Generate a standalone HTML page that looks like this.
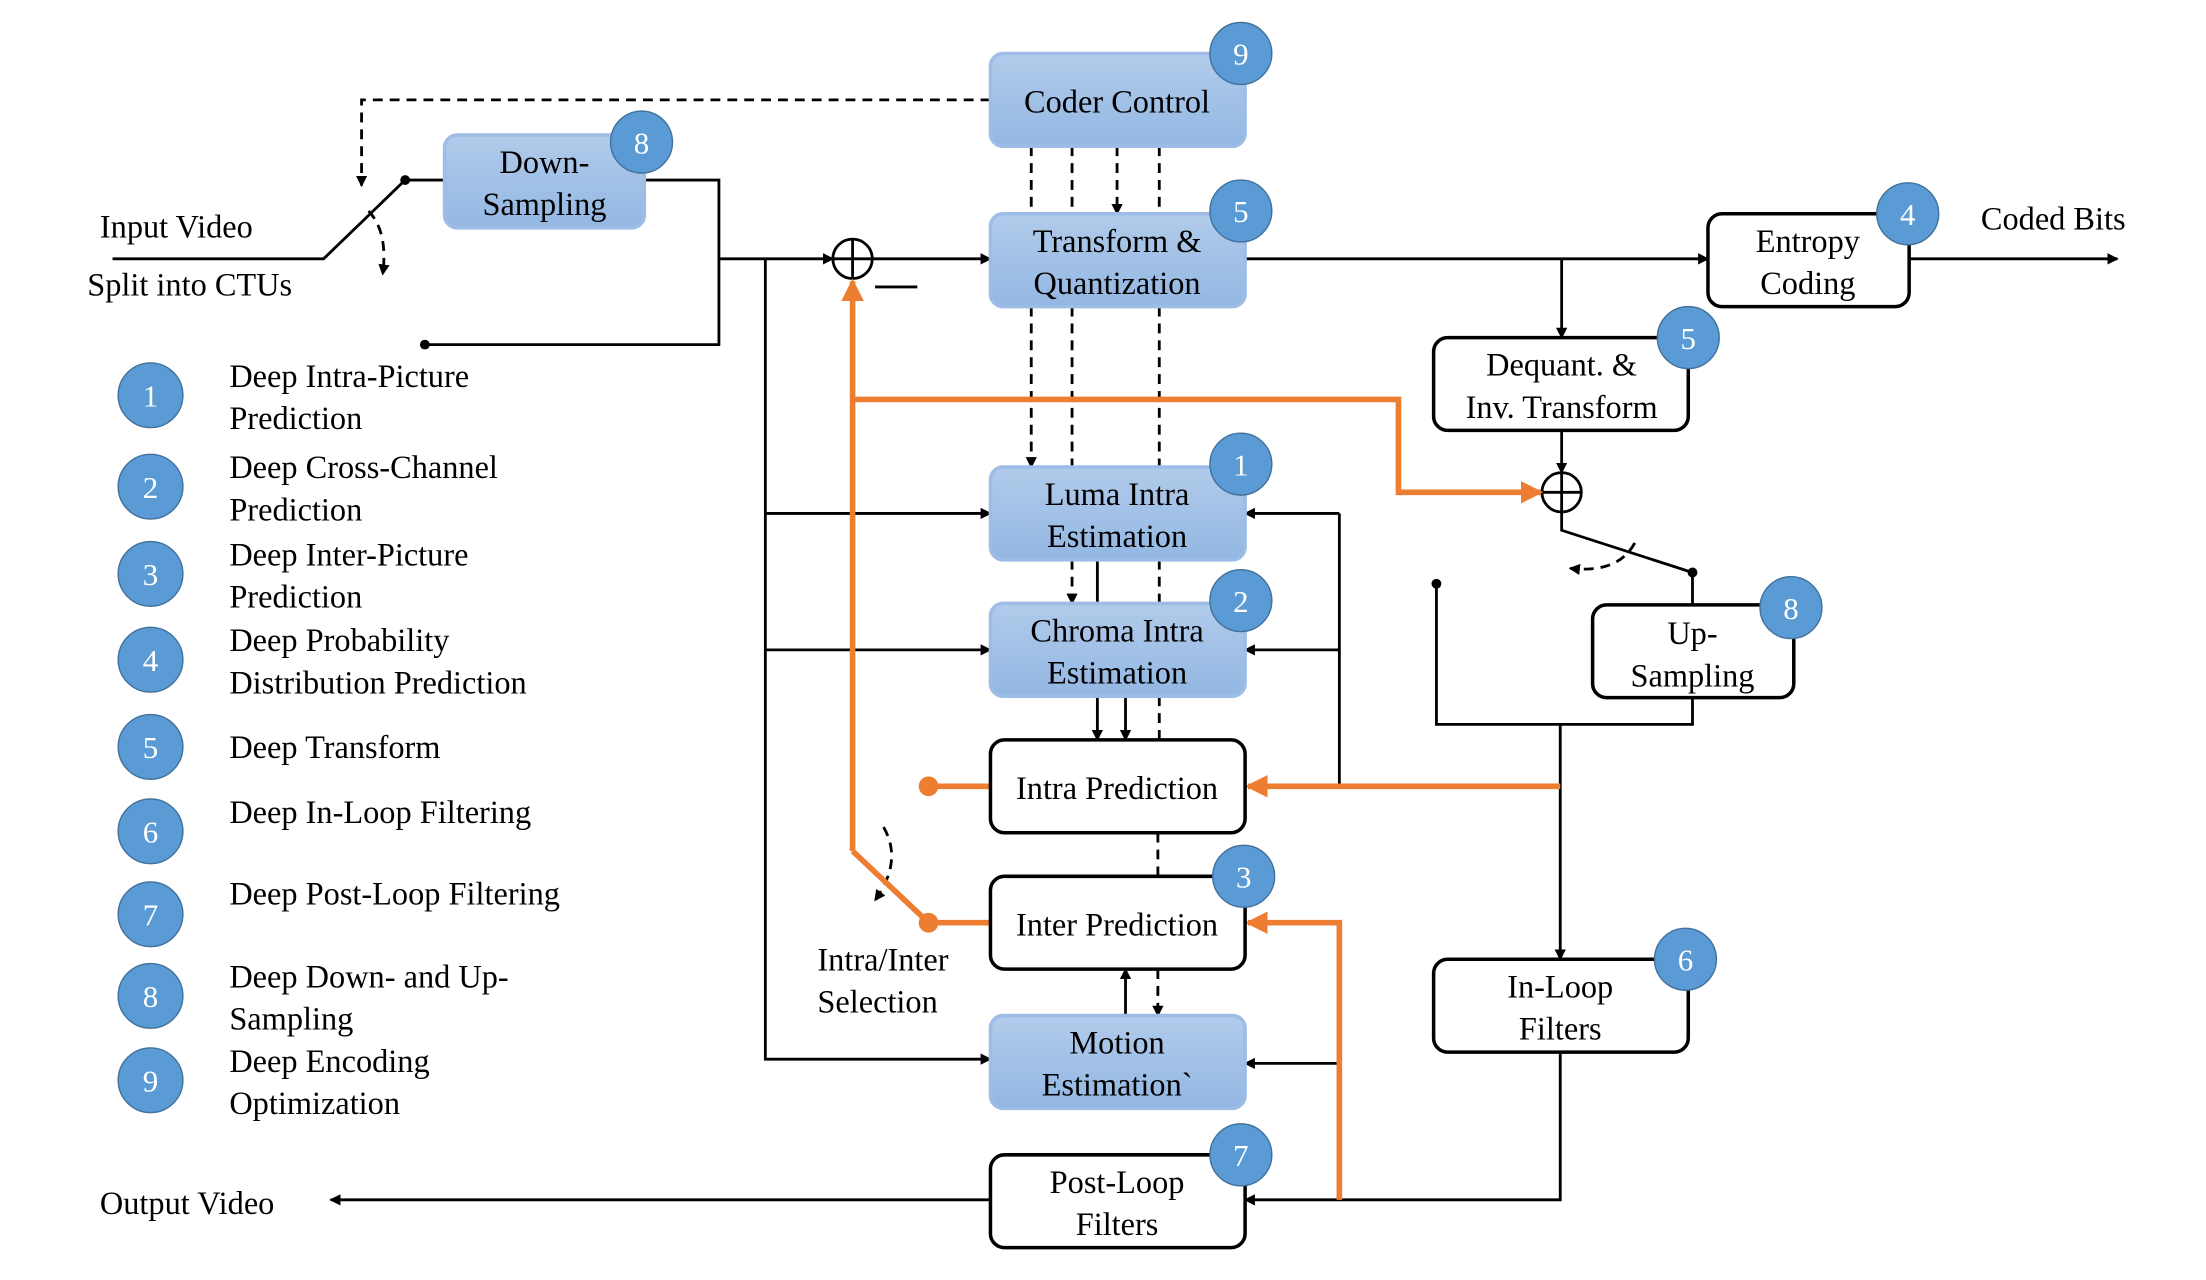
<!DOCTYPE html>
<html><head><meta charset="utf-8"><style>
html,body{margin:0;padding:0;background:#fff;}
svg{display:block;}
svg text{font-family:"Liberation Serif","Times New Roman",Times,serif;}
</style></head><body>
<svg width="2206" height="1280" viewBox="0 0 1568 910" preserveAspectRatio="none" xmlns="http://www.w3.org/2000/svg" font-family="'Liberation Serif', 'Times New Roman', serif">
<defs>
<linearGradient id="bg" x1="0" y1="0" x2="0" y2="1"><stop offset="0" stop-color="#b1cbea"/><stop offset="1" stop-color="#93b7e3"/></linearGradient>
<marker id="a" markerWidth="8" markerHeight="8" refX="7" refY="4" orient="auto" markerUnits="userSpaceOnUse"><path d="M0,0 L8,4 L0,8 z" fill="#000"/></marker>
<marker id="ao" markerWidth="16" markerHeight="16" refX="14" refY="8" orient="auto" markerUnits="userSpaceOnUse"><path d="M0,0 L16,8 L0,16 z" fill="#ed7d31"/></marker>
</defs>
<g fill="none" stroke="#000" stroke-width="2">
<polyline points="80,184 230,184 288,128"/>
<line x1="288" y1="128" x2="316" y2="128"/>
<polyline points="458,128 511,128 511,245 302,245"/>
<line x1="511" y1="184" x2="592" y2="184" marker-end="url(#a)"/>
<line x1="620" y1="184" x2="704" y2="184" marker-end="url(#a)"/>
<line x1="622" y1="204" x2="652" y2="204"/>
<circle cx="606" cy="184" r="14"/><line x1="592" y1="184" x2="620" y2="184"/><line x1="606" y1="170" x2="606" y2="198"/>
<polyline points="544,184 544,753 704,753" marker-end="url(#a)"/>
<line x1="544" y1="365" x2="704" y2="365" marker-end="url(#a)"/>
<line x1="544" y1="462" x2="704" y2="462" marker-end="url(#a)"/>
<line x1="885" y1="184" x2="1214" y2="184" marker-end="url(#a)"/>
<line x1="1357" y1="184" x2="1505" y2="184" marker-end="url(#a)"/>
<line x1="1110" y1="184" x2="1110" y2="240" marker-end="url(#a)"/>
<line x1="1110" y1="306" x2="1110" y2="336" marker-end="url(#a)"/>
<circle cx="1110" cy="350" r="14"/><line x1="1096" y1="350" x2="1124" y2="350"/><line x1="1110" y1="336" x2="1110" y2="364"/>
<polyline points="1110,364 1110,377 1203,407"/>
<line x1="1203" y1="407" x2="1203" y2="430"/>
<polyline points="1203,496 1203,515 1021,515 1021,415"/>
<line x1="1109" y1="515" x2="1109" y2="682" marker-end="url(#a)"/>
<polyline points="1109,748 1109,853 885,853" marker-end="url(#a)"/>
<line x1="704" y1="853" x2="235" y2="853" marker-end="url(#a)"/>
<line x1="952" y1="365" x2="952" y2="559"/>
<line x1="952" y1="365" x2="885" y2="365" marker-end="url(#a)"/>
<line x1="952" y1="462" x2="885" y2="462" marker-end="url(#a)"/>
<line x1="952" y1="756" x2="885" y2="756" marker-end="url(#a)"/>
<line x1="780" y1="398" x2="780" y2="429"/>
<line x1="780" y1="495" x2="780" y2="526" marker-end="url(#a)"/>
<line x1="800" y1="495" x2="800" y2="526" marker-end="url(#a)"/>
<line x1="800" y1="722" x2="800" y2="689" marker-end="url(#a)"/>
</g>
<g fill="none" stroke="#000" stroke-width="2" stroke-dasharray="7,5">
<polyline points="704,71 257,71 257,132" marker-end="url(#a)"/>
<path d="M262,150 Q276,165 272,195" marker-end="url(#a)"/>
<line x1="733" y1="104" x2="733" y2="152"/><line x1="762" y1="104" x2="762" y2="152"/>
<line x1="794" y1="104" x2="794" y2="152" marker-end="url(#a)"/><line x1="824" y1="104" x2="824" y2="152"/>
<line x1="733" y1="218" x2="733" y2="332" marker-end="url(#a)"/>
<line x1="762" y1="218" x2="762" y2="332"/>
<line x1="824" y1="218" x2="824" y2="332"/>
<line x1="762" y1="398" x2="762" y2="429" marker-end="url(#a)"/>
<line x1="824" y1="398" x2="824" y2="429"/>
<line x1="824" y1="495" x2="824" y2="526"/>
<line x1="823" y1="592" x2="823" y2="623"/>
<line x1="823" y1="689" x2="823" y2="722" marker-end="url(#a)"/>
<path d="M1162,386 Q1150,408 1116,404" marker-end="url(#a)"/>
<path d="M628,588 Q642,612 622,640" marker-end="url(#a)"/>
</g>
<g fill="#000"><circle cx="288" cy="128" r="3.5"/><circle cx="302" cy="245" r="3.5"/><circle cx="1203" cy="407" r="3.5"/><circle cx="1021" cy="415" r="3.5"/></g>
<g fill="none" stroke="#ed7d31" stroke-width="4">
<line x1="1109" y1="559" x2="887" y2="559" marker-end="url(#ao)"/>
<polyline points="952,853 952,656 887,656" marker-end="url(#ao)"/>
<line x1="660" y1="559" x2="704" y2="559"/>
<line x1="660" y1="656" x2="704" y2="656"/>
<line x1="660" y1="656" x2="606" y2="605"/>
<line x1="606" y1="605" x2="606" y2="200" marker-end="url(#ao)"/>
<polyline points="606,284 994,284 994,350 1095,350" marker-end="url(#ao)"/>
</g>
<g fill="#ed7d31"><circle cx="660" cy="559" r="7"/><circle cx="660" cy="656" r="7"/></g>
<g stroke-width="2.5">
<rect x="704" y="38" width="181" height="66" rx="9" fill="url(#bg)" stroke="#9dbde6"/>
<rect x="316" y="96" width="142" height="66" rx="9" fill="url(#bg)" stroke="#9dbde6"/>
<rect x="704" y="152" width="181" height="66" rx="9" fill="url(#bg)" stroke="#9dbde6"/>
<rect x="704" y="332" width="181" height="66" rx="9" fill="url(#bg)" stroke="#9dbde6"/>
<rect x="704" y="429" width="181" height="66" rx="9" fill="url(#bg)" stroke="#9dbde6"/>
<rect x="704" y="722" width="181" height="66" rx="9" fill="url(#bg)" stroke="#9dbde6"/>
<rect x="1214" y="152" width="143" height="66" rx="10" fill="#fff" stroke="#000"/>
<rect x="1019" y="240" width="181" height="66" rx="10" fill="#fff" stroke="#000"/>
<rect x="704" y="526" width="181" height="66" rx="10" fill="#fff" stroke="#000"/>
<rect x="704" y="623" width="181" height="66" rx="10" fill="#fff" stroke="#000"/>
<rect x="704" y="821" width="181" height="66" rx="10" fill="#fff" stroke="#000"/>
<rect x="1132" y="430" width="143" height="66" rx="10" fill="#fff" stroke="#000"/>
<rect x="1019" y="682" width="181" height="66" rx="10" fill="#fff" stroke="#000"/>
</g>
<g font-size="23" text-anchor="middle" fill="#000">
<text x="794" y="80">Coder Control</text>
<text x="387" y="123">Down-</text><text x="387" y="153">Sampling</text>
<text x="794" y="179">Transform &amp;</text><text x="794" y="209">Quantization</text>
<text x="1285" y="179">Entropy</text><text x="1285" y="209">Coding</text>
<text x="1110" y="267">Dequant. &amp;</text><text x="1110" y="297">Inv. Transform</text>
<text x="794" y="359">Luma Intra</text><text x="794" y="389">Estimation</text>
<text x="794" y="456">Chroma Intra</text><text x="794" y="486">Estimation</text>
<text x="794" y="568">Intra Prediction</text>
<text x="794" y="665">Inter Prediction</text>
<text x="794" y="749">Motion</text><text x="794" y="779">Estimation`</text>
<text x="794" y="848">Post-Loop</text><text x="794" y="878">Filters</text>
<text x="1203" y="458">Up-</text><text x="1203" y="488">Sampling</text>
<text x="1109" y="709">In-Loop</text><text x="1109" y="739">Filters</text>
</g>
<g font-size="23" fill="#000">
<text x="71" y="169">Input Video</text>
<text x="62" y="210">Split into CTUs</text>
<text x="1408" y="163">Coded Bits</text>
<text x="71" y="863">Output Video</text>
<text x="581" y="690">Intra/Inter</text>
<text x="581" y="720">Selection</text>
<text x="163" y="275">Deep Intra-Picture</text><text x="163" y="305">Prediction</text>
<text x="163" y="340">Deep Cross-Channel</text><text x="163" y="370">Prediction</text>
<text x="163" y="402">Deep Inter-Picture</text><text x="163" y="432">Prediction</text>
<text x="163" y="463">Deep Probability</text><text x="163" y="493">Distribution Prediction</text>
<text x="163" y="539">Deep Transform</text>
<text x="163" y="585">Deep In-Loop Filtering</text>
<text x="163" y="643">Deep Post-Loop Filtering</text>
<text x="163" y="702">Deep Down- and Up-</text><text x="163" y="732">Sampling</text>
<text x="163" y="762">Deep Encoding</text><text x="163" y="792">Optimization</text>
</g>
<g fill="#5b9bd5" stroke="#41719c" stroke-width="1">
<circle cx="882" cy="38" r="22"/><circle cx="456" cy="101" r="22"/><circle cx="882" cy="150" r="22"/>
<circle cx="1356" cy="152" r="22"/><circle cx="1200" cy="240" r="22"/><circle cx="882" cy="330" r="22"/>
<circle cx="882" cy="427" r="22"/><circle cx="884" cy="623" r="22"/><circle cx="882" cy="821" r="22"/>
<circle cx="1273" cy="432" r="22"/><circle cx="1198" cy="682" r="22"/>
<circle cx="107" cy="281" r="23"/><circle cx="107" cy="346" r="23"/><circle cx="107" cy="408" r="23"/>
<circle cx="107" cy="469" r="23"/><circle cx="107" cy="531" r="23"/><circle cx="107" cy="591" r="23"/>
<circle cx="107" cy="650" r="23"/><circle cx="107" cy="708" r="23"/><circle cx="107" cy="768" r="23"/>
</g>
<g font-size="22" text-anchor="middle" fill="#fff">
<text x="882" y="46">9</text><text x="456" y="109">8</text><text x="882" y="158">5</text>
<text x="1356" y="160">4</text><text x="1200" y="248">5</text><text x="882" y="338">1</text>
<text x="882" y="435">2</text><text x="884" y="631">3</text><text x="882" y="829">7</text>
<text x="1273" y="440">8</text><text x="1198" y="690">6</text>
<text x="107" y="289">1</text><text x="107" y="354">2</text><text x="107" y="416">3</text>
<text x="107" y="477">4</text><text x="107" y="539">5</text><text x="107" y="599">6</text>
<text x="107" y="658">7</text><text x="107" y="716">8</text><text x="107" y="776">9</text>
</g>
</svg>
</body></html>
